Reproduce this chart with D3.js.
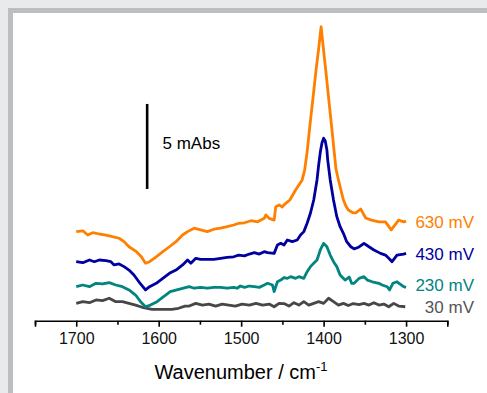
<!DOCTYPE html>
<html>
<head>
<meta charset="utf-8">
<script src="https://cdn.jsdelivr.net/npm/d3@7/dist/d3.min.js"></script>
<style>
  html, body { margin: 0; padding: 0; background: #e9eaec; }
  svg { display: block; font-family: "Liberation Sans", Arial, sans-serif; }
</style>
</head>
<body>
<div id="chart"></div>
<script>
// Spectra, in mAbs (x = wavenumber / cm-1)
const wn630 = [1700,1692,1686,1680,1672,1664,1656,1648,1642,1636,1627,1621,1616,1611,1603,1595,1587,1579,1571,1565,1557,1549,1541,1533,1525,1517,1509,1503,1496,1488,1480,1472,1470,1466,1460,1458,1454,1450,1448,1441,1434,1426,1423,1420,1416,1413,1409,1406,1403,1400,1397,1394,1390,1387,1385,1382,1379,1376,1373,1370,1364,1361,1355,1349,1342,1333,1325,1318,1309,1303,1300];
const abs630 = [0.04,0.09,-0.16,-0.02,-0.10,-0.16,-0.26,-0.35,-0.55,-0.85,-1.14,-1.44,-1.82,-1.73,-1.44,-1.14,-0.85,-0.55,-0.16,0.04,0.24,0.14,0.04,0.18,0.24,0.33,0.43,0.53,0.56,0.68,0.62,0.82,1.02,0.82,0.72,1.51,1.61,1.49,1.61,1.90,2.49,3.08,3.66,4.72,6.55,7.84,9.61,10.81,12.09,10.69,9.34,7.94,6.08,4.66,3.72,3.08,2.49,1.90,1.55,1.31,1.14,1.14,1.37,0.84,0.72,0.61,0.61,0.14,0.72,0.61,0.66];

const wn430 = [1700,1692,1684,1678,1672,1664,1658,1654,1648,1642,1636,1630,1624,1616,1611,1603,1595,1587,1579,1571,1565,1561,1555,1549,1541,1533,1525,1517,1509,1503,1496,1490,1484,1478,1472,1468,1460,1456,1452,1448,1444,1438,1432,1428,1424,1420,1416,1412,1408,1406,1404,1402,1400,1398,1396,1395,1392,1388,1384,1380,1376,1372,1367,1363,1357,1351,1345,1339,1331,1325,1321,1317,1311,1303,1300];
const abs430 = [-0.03,-0.09,0.07,-0.03,0.07,0.03,-0.03,-0.22,-0.16,-0.32,-0.52,-0.81,-1.21,-1.69,-1.50,-1.30,-1.01,-0.71,-0.52,-0.22,0.07,-0.12,0.17,0.11,0.11,0.11,0.17,0.23,0.26,0.36,0.31,0.42,0.50,0.42,0.56,0.50,0.46,0.95,1.05,0.95,1.25,1.15,1.25,1.54,1.74,2.23,2.82,3.60,4.78,5.66,6.42,6.95,7.23,7.07,6.54,5.95,4.78,3.60,2.62,2.03,1.64,1.15,0.85,0.72,0.84,1.05,0.85,0.66,0.46,0.36,0.17,-0.03,0.36,0.42,0.46];

const wn230 = [1700,1692,1684,1676,1668,1660,1652,1644,1636,1628,1622,1616,1610,1602,1594,1586,1578,1570,1563,1557,1549,1541,1533,1525,1517,1509,1505,1501,1496,1490,1484,1478,1472,1468,1462,1460,1456,1452,1448,1444,1440,1434,1430,1424,1420,1416,1412,1408,1404,1400,1396,1392,1388,1384,1380,1374,1369,1366,1363,1357,1351,1347,1341,1333,1329,1323,1320,1316,1311,1303,1300];
const abs230 = [0,0.10,0,0.20,0.16,0.24,0.10,0,-0.19,-0.49,-0.88,-1.18,-1.08,-0.88,-0.59,-0.29,-0.19,-0.09,0,-0.09,-0.04,-0.09,-0.04,-0.04,-0.09,-0.04,-0.09,0.04,-0.04,0.04,0,-0.04,0.10,0.20,0.10,-0.29,0.29,0.39,0.54,0.49,0.59,0.49,0.59,0.49,0.88,1.18,1.38,1.57,2.16,2.55,2.35,1.86,1.47,1.18,0.69,0.39,0.57,0.20,0.20,0.49,0.59,0.39,0.29,0.20,0.10,0,-0.19,0.20,0.29,0,-0.04];

const wn30 = [1700,1692,1684,1676,1668,1660,1652,1644,1636,1628,1620,1614,1608,1600,1592,1584,1576,1568,1563,1555,1547,1539,1531,1523,1515,1507,1499,1490,1482,1474,1466,1460,1454,1448,1442,1436,1430,1424,1418,1412,1406,1400,1394,1388,1382,1376,1370,1364,1357,1351,1345,1339,1333,1327,1321,1315,1309,1301];
const abs30 = [0.02,0.12,0.06,0.22,0.18,0.32,0.12,0.12,0.02,-0.08,-0.21,-0.27,-0.33,-0.33,-0.33,-0.33,-0.27,-0.14,-0.14,0.02,-0.08,-0.02,-0.14,-0.02,-0.08,-0.14,-0.02,-0.08,0.02,-0.08,-0.02,-0.18,0.02,0.01,-0.14,0.06,-0.08,0.12,-0.08,0.02,0.12,0.02,0.32,0.12,-0.08,0.02,-0.11,0.01,-0.05,0.02,-0.08,0.06,-0.08,-0.02,-0.18,0.02,-0.14,-0.18];

const seriesNames = ['630 mV', '430 mV', '230 mV', '30 mV'];
const seriesOffsets = [5.2, 3.5, 2.0, 1.0];   // vertical stacking, mAbs
const seriesColors = ['#ff8000', '#0000a0', '#00857f', '#474747'];
const labelColors = ['#ff8000', '#0000a0', '#00857f', '#555555'];
const xTicks = [1750, 1700, 1650, 1600, 1550, 1500, 1450, 1400, 1350, 1300, 1250];
const scaleBar = { wn: 1614, from: 7.75, size: 5, label: '5 mAbs' };

const W = 487, H = 393;
const svg = d3.select('#chart').append('svg').attr('width', W).attr('height', H);

// frame
svg.append('rect').attr('width', W).attr('height', H).attr('fill', '#e9eaec');
svg.append('rect').attr('x', 8).attr('y', 8).attr('width', W).attr('height', H).attr('fill', '#bdbec1');
svg.append('rect').attr('x', 13).attr('y', 13).attr('width', W).attr('height', H).attr('fill', '#fff');

const x = d3.scaleLinear().domain([1750, 1250]).range([35, 447.3]);
const y = d3.scaleLinear().domain([0, 17]).range([320.7, 31.7]);

const series = [
  { wn: wn630, abs: abs630 },
  { wn: wn430, abs: abs430 },
  { wn: wn230, abs: abs230 },
  { wn: wn30, abs: abs30 }
];

const line = d3.line().x(d => x(d[0])).y(d => y(d[1]));

// draw bottom-up so the orange sits on top
series.slice().reverse().forEach((s, ri) => {
  const i = series.length - 1 - ri;
  const pts = s.wn.map((w, k) => [w, s.abs[k] + seriesOffsets[i]]);
  svg.append('path')
    .datum(pts)
    .attr('fill', 'none')
    .attr('stroke', seriesColors[i])
    .attr('stroke-width', 2.8)
    .attr('stroke-linejoin', 'round')
    .attr('d', line);
});

// series labels, right aligned next to each trace
const labelY = [227.5, 260, 291, 313];
seriesNames.forEach((n, i) => {
  svg.append('text')
    .attr('x', 474)
    .attr('y', labelY[i])
    .attr('text-anchor', 'end')
    .attr('font-size', 17)
    .attr('fill', labelColors[i])
    .text(n);
});

// scale bar
svg.append('line')
  .attr('x1', x(scaleBar.wn)).attr('x2', x(scaleBar.wn))
  .attr('y1', y(scaleBar.from)).attr('y2', y(scaleBar.from + scaleBar.size))
  .attr('stroke', '#000').attr('stroke-width', 2.6);
svg.append('text')
  .attr('x', 162.5)
  .attr('y', 149)
  .attr('font-size', 17)
  .attr('fill', '#000')
  .text(scaleBar.label);

// x axis
const ax = svg.append('g')
  .attr('transform', `translate(0,${y(0)})`)
  .call(d3.axisBottom(x)
    .tickValues(xTicks)
    .tickSizeOuter(0)
    .tickSize(6)
    .tickPadding(6)
    .tickFormat(d => d % 100 === 0 ? d : ''));
ax.select('.domain').attr('stroke', '#000').attr('stroke-width', 1.6);
ax.selectAll('.tick line')
  .attr('stroke', '#000')
  .attr('stroke-width', 1.6)
  .attr('y2', d => d % 100 === 0 ? 6 : 4);
ax.selectAll('.tick text')
  .attr('font-size', 16)
  .attr('fill', '#111')
  .attr('font-family', '"Liberation Sans", Arial, sans-serif');

// axis title
const title = svg.append('text')
  .attr('x', 241)
  .attr('y', 379)
  .attr('text-anchor', 'middle')
  .attr('font-size', 20)
  .attr('fill', '#000');
title.append('tspan').text('Wavenumber / cm');
title.append('tspan').attr('dy', -8).attr('font-size', 13).text('-1');
</script>
</body>
</html>
